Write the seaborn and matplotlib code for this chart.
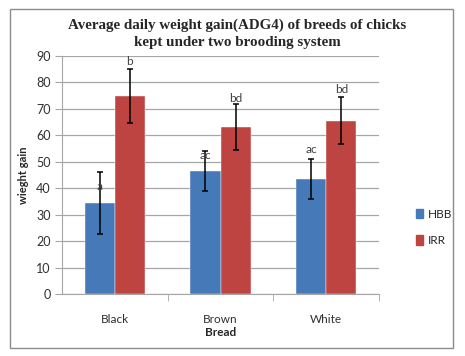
import pandas as pd
import numpy as np
import matplotlib
matplotlib.use('Agg')
import matplotlib.pyplot as plt
import seaborn as sns
from matplotlib.patches import Rectangle

# values
breeds = ['Black', 'Brown', 'White']
systems = ['HBB', 'IRR']
hbb_gain = [34.5, 46.5, 43.5]
irr_gain = [75.0, 63.2, 65.5]
hbb_err = [11.7, 7.7, 7.6]
irr_err = [10.2, 8.8, 8.8]
hbb_letters = ['a', 'ac', 'ac']
irr_letters = ['b', 'bd', 'bd']
hbb_label_y = [40.5, 52.5, 54.5]
irr_label_y = [88.0, 74.0, 77.3]

df = pd.DataFrame({
    'Bread': breeds * 2,
    'System': ['HBB'] * 3 + ['IRR'] * 3,
    'gain': hbb_gain + irr_gain,
})

sns.set_style('white')
plt.rcParams['font.family'] = ['Lato', 'DejaVu Sans']

fig = plt.figure(figsize=(4.65, 3.56), dpi=100)
ax = fig.add_axes([0.1333, 0.174, 0.682, 0.669])

# outer chart frame
fig.patches.append(Rectangle((10 / 465, 1 - 348 / 356), 443 / 465, 339 / 356,
                             transform=fig.transFigure, fill=False,
                             edgecolor='#8c8c8c', linewidth=1.0))

palette = {'HBB': '#4679B8', 'IRR': '#BE4442'}
sns.barplot(data=df, x='Bread', y='gain', hue='System', order=breeds,
            hue_order=systems, palette=palette, width=0.57, errorbar=None,
            saturation=1, ax=ax, zorder=3)

# error bars and significance letters
bar_groups = list(ax.containers)
for i, cont in enumerate(bar_groups):
    errs = [hbb_err, irr_err][i]
    letters = [hbb_letters, irr_letters][i]
    label_y = [hbb_label_y, irr_label_y][i]
    for j, bar in enumerate(cont):
        bar.set_edgecolor('white')
        bar.set_linewidth(0.3)
        xc = bar.get_x() + bar.get_width() / 2
        ax.errorbar(xc, bar.get_height(), yerr=errs[j], color='black',
                    capsize=2.5, elinewidth=1.1, capthick=1.1, zorder=5)
        ax.text(xc, label_y[j], letters[j], ha='center', va='center',
                fontsize=8.5, color='#404040', zorder=6)

ax.set_ylim(0, 90)
ax.set_xlim(-0.5, 2.5)
ax.set_yticks(range(0, 91, 10))
ax.yaxis.grid(True, color='#a6a6a6', linewidth=0.9, zorder=0)
ax.set_axisbelow(True)
for side in ['top', 'right']:
    ax.spines[side].set_visible(False)
ax.spines['left'].set_color('#a6a6a6')
ax.spines['bottom'].set_color('#a6a6a6')
ax.tick_params(axis='y', length=5, color='#a6a6a6', labelsize=9,
               labelcolor='#303030', left=True, pad=3)
ax.set_xticks([0, 1, 2])
ax.set_xticklabels(breeds)
ax.set_xticks([0.5, 1.5, 2.5], minor=True)
ax.tick_params(axis='x', which='major', length=0, labelsize=8.5,
               labelcolor='#303030', pad=14)
ax.tick_params(axis='x', which='minor', length=5, color='#a6a6a6', bottom=True)

ax.set_xlabel('Bread', fontsize=8.5, fontweight='bold', labelpad=2)
ax.set_ylabel('wieght gain', fontsize=8, fontweight='bold', labelpad=5)

ax.legend_.remove()
handles = [Rectangle((0, 0), 1, 1, color=palette[s]) for s in systems]
fig.legend(handles, systems, loc='upper left',
           bbox_to_anchor=(405 / 465, 1 - 198 / 356), frameon=False,
           fontsize=8.5, handlelength=0.6, handleheight=0.9,
           handletextpad=0.4, labelspacing=1.3)

fig.text(0.51, 1 - 34 / 356,
         'Average daily weight gain(ADG4) of breeds of chicks\nkept under two brooding system',
         ha='center', va='center', fontsize=10.8, fontweight='bold',
         family='Liberation Serif', linespacing=1.45)

fig.savefig('out.png', dpi=100)
